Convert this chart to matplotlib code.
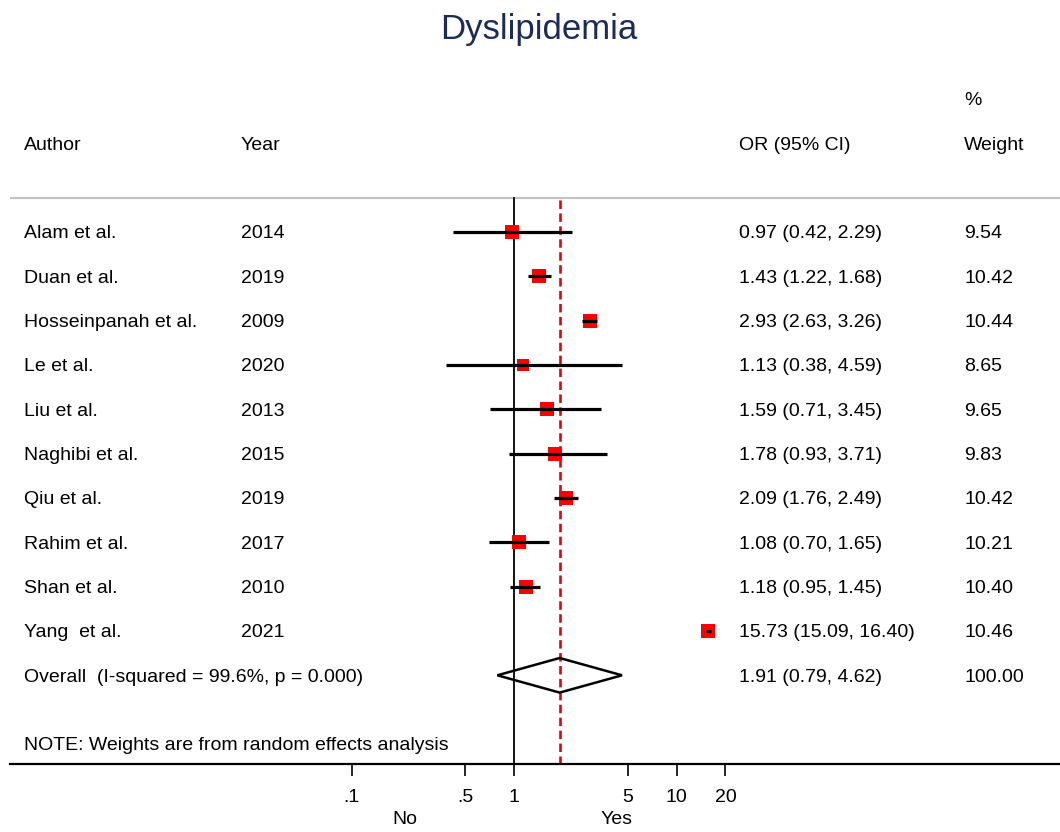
import numpy as np
import matplotlib.pyplot as plt
from matplotlib import transforms
from matplotlib.patches import Polygon

plt.rcParams['font.family'] = ['Liberation Sans', 'DejaVu Sans']

# study data
authors = ['Alam et al.', 'Duan et al.', 'Hosseinpanah et al.', 'Le et al.', 'Liu et al.',
           'Naghibi et al.', 'Qiu et al.', 'Rahim et al.', 'Shan et al.', 'Yang  et al.']
years = ['2014', '2019', '2009', '2020', '2013', '2015', '2019', '2017', '2010', '2021']
odds = [0.97, 1.43, 2.93, 1.13, 1.59, 1.78, 2.09, 1.08, 1.18, 15.73]
lower = [0.42, 1.22, 2.63, 0.38, 0.71, 0.93, 1.76, 0.70, 0.95, 15.09]
upper = [2.29, 1.68, 3.26, 4.59, 3.45, 3.71, 2.49, 1.65, 1.45, 16.40]
weights = [9.54, 10.42, 10.44, 8.65, 9.65, 9.83, 10.42, 10.21, 10.40, 10.46]

overall = [1.91, 0.79, 4.62]
overall_label = 'Overall  (I-squared = 99.6%, p = 0.000)'
ticks = [0.1, 0.5, 1, 5, 10, 20]
tick_labels = ['.1', '.5', '1', '5', '10', '20']

W, H = 1060, 832
fig = plt.figure(figsize=(W / 100, H / 100), dpi=100)

# axes spans the axis line (y=764px) up to above the headers
row_px = 44.4
top_px = 232 - row_px * 3.5
ax = fig.add_axes([10 / W, (H - 764) / H, 1050 / W, (764 - top_px) / H])
ax.set_xscale('log')
ppd = 162.5  # pixels per decade
ax.set_xlim(10 ** ((10 - 514) / ppd), 10 ** ((1060 - 514) / ppd))
ax.set_ylim(12, -3.5)

n = len(authors)
rows = np.arange(n)
line_top = -0.77

# gray separator and reference lines
ax.axhline(line_top, color='#c4c4c4', lw=1.6, zorder=1)
ax.plot([1, 1], [line_top, 12], color='black', lw=1.3, zorder=2)
red_line, = ax.plot([overall[0], overall[0]], [line_top + 0.05, 12], color='#e8000b', lw=1.9, zorder=2)
red_line.set_dashes([3.2, 1.7])

# squares and CIs
for i in range(n):
    ax.plot(odds[i], rows[i], marker='s', color='red', markersize=3.05 * np.sqrt(weights[i]),
            markeredgewidth=0, zorder=3)
    ax.plot([lower[i], upper[i]], [rows[i], rows[i]], color='black', lw=2.3, zorder=4,
            solid_capstyle='butt')

# overall diamond
dy = 0.39
diamond = Polygon([(overall[1], n), (overall[0], n - dy), (overall[2], n), (overall[0], n + dy)],
                  closed=True, fill=False, edgecolor='black', lw=1.8, zorder=4)
ax.add_patch(diamond)

# axis styling
for s in ['top', 'left', 'right']:
    ax.spines[s].set_visible(False)
ax.spines['bottom'].set_linewidth(1.6)
ax.set_yticks([])
ax.set_xticks(ticks)
ax.set_xticklabels(tick_labels)
ax.xaxis.set_minor_locator(plt.NullLocator())
ax.tick_params(axis='x', direction='out', length=8.5, width=1.2, pad=9.5, labelsize=14)

# text columns
tr = transforms.blended_transform_factory(fig.transFigure, ax.transData)
fs = 14
col_author, col_year, col_or, col_w = 24 / W, 241 / W, 739 / W, 964 / W
va = 'center_baseline'

ax.text(col_author, -2, 'Author', transform=tr, fontsize=fs, va=va)
ax.text(col_year, -2, 'Year', transform=tr, fontsize=fs, va=va)
ax.text(col_or, -2, 'OR (95% CI)', transform=tr, fontsize=fs, va=va)
ax.text(col_w, -3, '%', transform=tr, fontsize=fs, va=va)
ax.text(col_w, -2, 'Weight', transform=tr, fontsize=fs, va=va)

for i in range(n):
    ax.text(col_author, rows[i], authors[i], transform=tr, fontsize=fs, va=va)
    ax.text(col_year, rows[i], years[i], transform=tr, fontsize=fs, va=va)
    ax.text(col_or, rows[i], f'{odds[i]:.2f} ({lower[i]:.2f}, {upper[i]:.2f})',
            transform=tr, fontsize=fs, va=va)
    ax.text(col_w, rows[i], f'{weights[i]:.2f}', transform=tr, fontsize=fs, va=va)

ax.text(col_author, n, overall_label, transform=tr, fontsize=fs, va=va)
ax.text(col_or, n, f'{overall[0]:.2f} ({overall[1]:.2f}, {overall[2]:.2f})',
        transform=tr, fontsize=fs, va=va)
ax.text(col_w, n, '100.00', transform=tr, fontsize=fs, va=va)
ax.text(col_author, 11.53, 'NOTE: Weights are from random effects analysis', transform=tr,
        fontsize=fs, va=va)

# direction labels and title
fig.text(405 / W, 1 - 820 / H, 'No', fontsize=fs, ha='center', va='center')
fig.text(617 / W, 1 - 820 / H, 'Yes', fontsize=fs, ha='center', va='center')
fig.text(539 / W, 1 - 29 / H, 'Dyslipidemia', fontsize=25, color='#1c2b59',
         ha='center', va='center')

fig.savefig('out.png', dpi=100)
